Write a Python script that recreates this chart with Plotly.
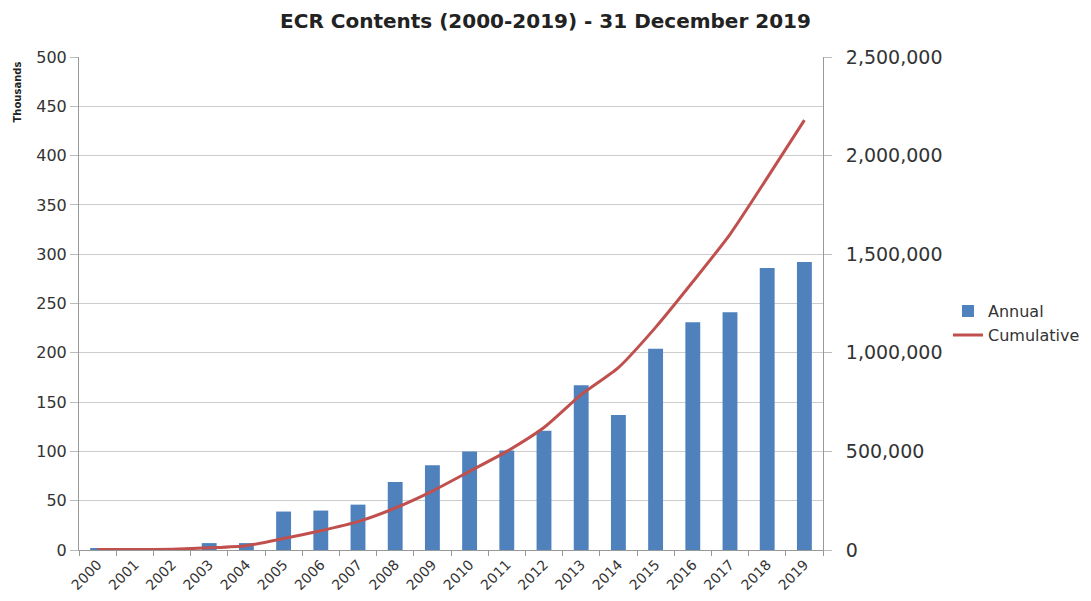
import plotly.graph_objects as go

years = [str(y) for y in range(2000, 2020)]
annual_thousands = [2, 1, 1, 7, 7, 39, 40, 46, 69, 86, 100, 101, 121, 167, 137, 204, 231, 241, 286, 292]
cumulative = [2000, 3000, 4000, 11000, 22000, 58000, 98000, 144000, 213000, 299000,
              399000, 500000, 621000, 788000, 925000, 1129000, 1360000, 1601000, 1887000, 2180000]
left_ticks = list(range(0, 501, 50))
right_ticks = [0, 500000, 1000000, 1500000, 2000000, 2500000]

font_family = "DejaVu Sans, sans-serif"

fig = go.Figure()
fig.add_trace(go.Bar(
    x=years, y=annual_thousands, name="Annual",
    marker=dict(color="#4f81bd", line=dict(width=0)),
))
fig.add_trace(go.Scatter(
    x=years, y=cumulative, name="Cumulative", yaxis="y2",
    mode="lines", line=dict(color="#c0504d", width=3, shape="spline", smoothing=0.6),
))

fig.update_layout(
    width=1091, height=601,
    margin=dict(l=79, r=268, t=57, b=51, autoexpand=False),
    paper_bgcolor="white", plot_bgcolor="white",
    font=dict(family=font_family, color="#333333"),
    title=dict(text="<b>ECR Contents (2000-2019) - 31 December 2019</b>",
               x=0.5, xanchor="center", y=0.965, yanchor="middle",
               font=dict(size=20, color="#222222", family=font_family)),
    bargap=0.6,
    showlegend=True,
    legend=dict(x=1.168, xanchor="left", y=0.46, yanchor="middle",
                font=dict(size=16, color="#333333"), bgcolor="rgba(0,0,0,0)"),
    xaxis=dict(
        type="category", tickangle=-45, tickfont=dict(size=14, color="#333333"),
        showline=True, linecolor="#999999", linewidth=1,
        ticks="outside", tickson="boundaries", ticklen=5, tickcolor="#999999",
        showgrid=False, automargin=False,
    ),
    yaxis=dict(
        range=[0, 500], tickvals=left_ticks, tickfont=dict(size=16, color="#333333"),
        showline=True, linecolor="#999999", linewidth=1,
        ticks="outside", ticklen=8, tickcolor="#bbbbbb",
        showgrid=True, gridcolor="#cccccc", gridwidth=1, zeroline=False, automargin=False,
    ),
    yaxis2=dict(
        range=[0, 2500000], tickvals=right_ticks, tickformat=",",
        overlaying="y", side="right", tickfont=dict(size=19, color="#333333"),
        showline=True, linecolor="#999999", linewidth=1,
        ticks="outside", ticklen=8, tickcolor="#bbbbbb", ticklabelstandoff=10,
        showgrid=False, zeroline=False, automargin=False,
    ),
)

fig.add_annotation(
    text="<b>Thousands</b>", xref="paper", yref="paper",
    x=-0.082, y=0.93, textangle=-90, showarrow=False,
    font=dict(size=10, color="#222222"), xanchor="center", yanchor="middle",
)

fig.write_html("out.html")
